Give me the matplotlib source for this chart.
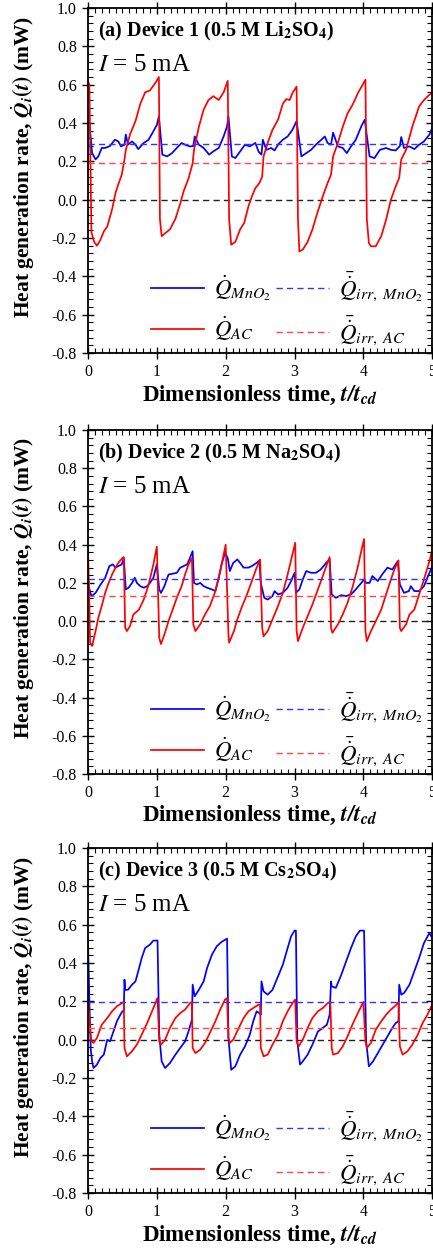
import numpy as np
import matplotlib
matplotlib.use('Agg')
import matplotlib.pyplot as plt
from matplotlib.ticker import MultipleLocator, FormatStrFormatter

plt.rcParams['font.family'] = 'Liberation Serif'
plt.rcParams['mathtext.fontset'] = 'stix'
plt.rcParams['axes.unicode_minus'] = False

# (t/t_cd, heat rate in mW)
ac_a = [(0.0, 0.62), (0.02, 0.60), (0.05, -0.17), (0.09, -0.22), (0.13, -0.24), (0.18, -0.21),
        (0.23, -0.165), (0.28, -0.14), (0.35, -0.05), (0.40, 0.035), (0.44, 0.08), (0.49, 0.13),
        (0.53, 0.21), (0.55, 0.26), (0.61, 0.34), (0.69, 0.41), (0.76, 0.50), (0.83, 0.56),
        (0.90, 0.57), (0.98, 0.61), (1.03, 0.64), (1.045, -0.10), (1.07, -0.19), (1.12, -0.175),
        (1.19, -0.155), (1.27, -0.10), (1.34, -0.02), (1.39, 0.045), (1.46, 0.11), (1.52, 0.19),
        (1.54, 0.26), (1.61, 0.38), (1.68, 0.47), (1.75, 0.52), (1.82, 0.54), (1.90, 0.52),
        (1.97, 0.56), (2.03, 0.62), (2.05, -0.10), (2.08, -0.235), (2.14, -0.22), (2.21, -0.155),
        (2.27, -0.12), (2.33, -0.035), (2.38, 0.017), (2.43, 0.06), (2.49, 0.087), (2.53, 0.12),
        (2.55, 0.226), (2.61, 0.296), (2.68, 0.365), (2.76, 0.417), (2.83, 0.50), (2.88, 0.525),
        (2.93, 0.52), (2.97, 0.557), (3.03, 0.59), (3.05, -0.10), (3.07, -0.27), (3.12, -0.26),
        (3.19, -0.22), (3.26, -0.155), (3.33, -0.07), (3.41, 0.017), (3.48, 0.087), (3.53, 0.13),
        (3.56, 0.226), (3.63, 0.296), (3.70, 0.38), (3.77, 0.45), (3.85, 0.50), (3.92, 0.556),
        (3.99, 0.60), (4.03, 0.626), (4.05, -0.10), (4.08, -0.226), (4.11, -0.243), (4.18, -0.243),
        (4.26, -0.19), (4.33, -0.104), (4.40, 0.0), (4.47, 0.07), (4.52, 0.113), (4.55, 0.21),
        (4.62, 0.26), (4.71, 0.38), (4.81, 0.487), (4.88, 0.52), (4.96, 0.548), (5.0, 0.556)]
mno2_a = [(0.0, 0.44), (0.02, 0.40), (0.06, 0.243), (0.11, 0.21), (0.15, 0.226), (0.20, 0.27),
          (0.25, 0.27), (0.32, 0.28), (0.39, 0.313), (0.44, 0.304), (0.48, 0.278), (0.53, 0.287),
          (0.55, 0.34), (0.58, 0.287), (0.64, 0.304), (0.69, 0.287), (0.73, 0.264), (0.81, 0.296),
          (0.88, 0.313), (0.95, 0.357), (1.00, 0.39), (1.03, 0.435), (1.08, 0.235), (1.15, 0.226),
          (1.22, 0.243), (1.29, 0.27), (1.36, 0.296), (1.41, 0.287), (1.48, 0.278), (1.53, 0.28),
          (1.55, 0.33), (1.61, 0.287), (1.68, 0.27), (1.76, 0.235), (1.82, 0.252), (1.90, 0.27),
          (1.97, 0.33), (2.02, 0.383), (2.04, 0.435), (2.09, 0.226), (2.14, 0.217), (2.21, 0.252),
          (2.28, 0.287), (2.35, 0.278), (2.43, 0.296), (2.48, 0.25), (2.52, 0.235), (2.54, 0.313),
          (2.59, 0.26), (2.66, 0.27), (2.71, 0.257), (2.76, 0.287), (2.83, 0.313), (2.90, 0.33),
          (2.97, 0.365), (3.03, 0.41), (3.10, 0.226), (3.17, 0.243), (3.24, 0.26), (3.31, 0.287),
          (3.39, 0.313), (3.44, 0.33), (3.48, 0.296), (3.53, 0.287), (3.56, 0.35), (3.63, 0.278),
          (3.70, 0.27), (3.76, 0.243), (3.82, 0.278), (3.89, 0.313), (3.97, 0.383), (4.02, 0.417),
          (4.09, 0.226), (4.16, 0.217), (4.24, 0.26), (4.33, 0.27), (4.40, 0.26), (4.47, 0.257),
          (4.53, 0.28), (4.55, 0.327), (4.59, 0.27), (4.67, 0.278), (4.74, 0.264), (4.81, 0.287),
          (4.88, 0.304), (4.96, 0.34), (5.0, 0.374)]

ac_b = [(0.0, 0.38), (0.02, 0.10), (0.03, -0.113), (0.06, -0.13), (0.11, -0.052), (0.15, 0.017),
        (0.20, 0.08), (0.25, 0.148), (0.30, 0.20), (0.35, 0.244), (0.40, 0.28), (0.44, 0.305),
        (0.50, 0.33), (0.52, 0.335), (0.54, -0.035), (0.565, -0.052), (0.61, -0.026), (0.66, 0.035),
        (0.74, 0.06), (0.81, 0.113), (0.88, 0.19), (0.95, 0.297), (1.00, 0.39), (1.035, -0.087),
        (1.06, -0.12), (1.11, -0.07), (1.17, 0.0), (1.23, 0.06), (1.29, 0.122), (1.36, 0.183),
        (1.41, 0.244), (1.46, 0.297), (1.51, 0.33), (1.53, -0.017), (1.56, -0.052), (1.63, -0.017),
        (1.70, 0.035), (1.77, 0.078), (1.85, 0.157), (1.92, 0.26), (2.00, 0.40), (2.04, -0.07),
        (2.05, -0.113), (2.12, -0.052), (2.16, 0.0), (2.23, 0.07), (2.31, 0.14), (2.38, 0.21),
        (2.45, 0.28), (2.50, 0.323), (2.53, -0.035), (2.55, -0.079), (2.61, -0.052), (2.68, 0.009),
        (2.76, 0.079), (2.83, 0.148), (2.90, 0.244), (2.97, 0.35), (3.01, 0.41), (3.03, -0.05),
        (3.05, -0.105), (3.12, -0.035), (3.19, 0.026), (3.26, 0.087), (3.34, 0.166), (3.41, 0.236),
        (3.47, 0.297), (3.51, 0.335), (3.53, -0.035), (3.55, -0.061), (3.63, -0.017), (3.70, 0.035),
        (3.77, 0.096), (3.84, 0.175), (3.91, 0.27), (3.98, 0.384), (4.01, 0.43), (4.03, -0.05),
        (4.05, -0.105), (4.11, -0.052), (4.18, 0.0), (4.26, 0.061), (4.33, 0.14), (4.40, 0.218),
        (4.45, 0.27), (4.51, 0.318), (4.53, -0.035), (4.55, -0.052), (4.62, -0.017), (4.67, 0.035),
        (4.74, 0.06), (4.81, 0.14), (4.88, 0.218), (4.96, 0.314), (5.0, 0.375)]
mno2_b = [(0.0, 0.22), (0.02, 0.17), (0.05, 0.13), (0.11, 0.148), (0.18, 0.19), (0.25, 0.227),
          (0.31, 0.288), (0.36, 0.297), (0.40, 0.28), (0.44, 0.288), (0.49, 0.297), (0.52, 0.33),
          (0.55, 0.166), (0.59, 0.175), (0.64, 0.20), (0.68, 0.227), (0.71, 0.20), (0.76, 0.183),
          (0.81, 0.175), (0.86, 0.183), (0.90, 0.20), (0.95, 0.227), (1.00, 0.297), (1.035, 0.166),
          (1.06, 0.148), (1.11, 0.183), (1.17, 0.244), (1.23, 0.248), (1.29, 0.253), (1.34, 0.28),
          (1.39, 0.288), (1.44, 0.297), (1.48, 0.33), (1.52, 0.366), (1.54, 0.20), (1.58, 0.192),
          (1.63, 0.20), (1.68, 0.183), (1.73, 0.175), (1.80, 0.166), (1.85, 0.157), (1.90, 0.227),
          (1.94, 0.297), (1.99, 0.358), (2.03, 0.33), (2.06, 0.262), (2.11, 0.305), (2.17, 0.323),
          (2.21, 0.305), (2.26, 0.28), (2.33, 0.28), (2.38, 0.288), (2.45, 0.305), (2.49, 0.318),
          (2.51, 0.20), (2.56, 0.122), (2.61, 0.113), (2.68, 0.131), (2.71, 0.157), (2.76, 0.14),
          (2.83, 0.148), (2.90, 0.175), (2.95, 0.21), (3.00, 0.253), (3.02, 0.148), (3.07, 0.166),
          (3.12, 0.218), (3.17, 0.262), (3.24, 0.253), (3.31, 0.253), (3.38, 0.27), (3.46, 0.305),
          (3.51, 0.323), (3.54, 0.14), (3.60, 0.122), (3.68, 0.136), (3.75, 0.131), (3.82, 0.14),
          (3.89, 0.166), (3.97, 0.20), (4.01, 0.218), (4.04, 0.20), (4.09, 0.20), (4.13, 0.236),
          (4.21, 0.21), (4.28, 0.248), (4.35, 0.28), (4.42, 0.27), (4.50, 0.314), (4.53, 0.192),
          (4.59, 0.148), (4.66, 0.157), (4.69, 0.183), (4.74, 0.157), (4.81, 0.157), (4.88, 0.183),
          (4.93, 0.227), (5.0, 0.288)]

ac_c = [(0.0, 0.22), (0.02, 0.10), (0.05, -0.009), (0.08, -0.017), (0.13, 0.009), (0.20, 0.078),
        (0.28, 0.113), (0.35, 0.148), (0.42, 0.174), (0.49, 0.19), (0.52, 0.197), (0.53, -0.043),
        (0.565, -0.087), (0.64, -0.06), (0.71, -0.026), (0.78, 0.026), (0.86, 0.087), (0.93, 0.148),
        (0.99, 0.20), (1.01, 0.217), (1.035, -0.009), (1.06, -0.026), (1.12, 0.0), (1.19, 0.061),
        (1.27, 0.113), (1.34, 0.139), (1.41, 0.157), (1.48, 0.19), (1.51, 0.197), (1.52, -0.043),
        (1.56, -0.07), (1.63, -0.052), (1.70, -0.017), (1.77, 0.035), (1.85, 0.096), (1.92, 0.157),
        (1.99, 0.209), (2.02, 0.217), (2.04, 0.009), (2.06, -0.017), (2.11, 0.0), (2.19, 0.061),
        (2.26, 0.113), (2.33, 0.148), (2.40, 0.165), (2.48, 0.183), (2.50, 0.183), (2.51, -0.043),
        (2.55, -0.087), (2.61, -0.078), (2.68, -0.026), (2.76, 0.026), (2.83, 0.096), (2.90, 0.148),
        (2.97, 0.191), (3.01, 0.209), (3.03, -0.009), (3.06, -0.035), (3.12, 0.0), (3.19, 0.061),
        (3.26, 0.113), (3.34, 0.148), (3.41, 0.165), (3.48, 0.19), (3.52, 0.197), (3.54, -0.043),
        (3.56, -0.078), (3.63, -0.07), (3.70, -0.035), (3.77, 0.017), (3.84, 0.078), (3.92, 0.139),
        (4.00, 0.197), (4.03, -0.009), (4.05, -0.043), (4.11, -0.017), (4.18, 0.052), (4.26, 0.096),
        (4.33, 0.13), (4.40, 0.157), (4.47, 0.179), (4.51, 0.197), (4.53, -0.035), (4.57, -0.078),
        (4.64, -0.061), (4.71, -0.026), (4.79, 0.026), (4.86, 0.087), (4.93, 0.13), (5.0, 0.183)]
mno2_c = [(0.0, 0.52), (0.02, 0.20), (0.04, -0.05), (0.06, -0.113), (0.08, -0.148), (0.13, -0.13),
          (0.18, -0.096), (0.23, -0.078), (0.28, 0.0), (0.32, -0.009), (0.37, 0.043), (0.42, 0.096),
          (0.47, 0.13), (0.50, 0.148), (0.52, 0.15), (0.53, 0.313), (0.54, 0.26), (0.58, 0.26),
          (0.64, 0.287), (0.69, 0.304), (0.73, 0.357), (0.78, 0.426), (0.83, 0.478), (0.90, 0.496),
          (0.95, 0.517), (1.01, 0.517), (1.035, 0.026), (1.07, -0.113), (1.12, -0.148), (1.19, -0.122),
          (1.27, -0.078), (1.34, -0.043), (1.41, -0.009), (1.46, 0.043), (1.51, 0.104), (1.52, 0.287),
          (1.55, 0.226), (1.61, 0.26), (1.68, 0.304), (1.73, 0.374), (1.80, 0.443), (1.87, 0.487),
          (1.94, 0.51), (2.02, 0.527), (2.04, 0.009), (2.08, -0.157), (2.14, -0.139), (2.21, -0.078),
          (2.28, -0.035), (2.35, 0.026), (2.40, 0.096), (2.45, 0.148), (2.50, 0.135), (2.51, 0.13),
          (2.52, 0.304), (2.55, 0.252), (2.61, 0.235), (2.68, 0.26), (2.76, 0.33), (2.83, 0.391),
          (2.90, 0.478), (2.95, 0.539), (3.00, 0.569), (3.02, 0.569), (3.04, -0.009), (3.08, -0.13),
          (3.12, -0.113), (3.19, -0.078), (3.26, -0.026), (3.34, 0.043), (3.41, 0.061), (3.47, 0.078),
          (3.51, 0.13), (3.53, 0.304), (3.54, 0.278), (3.60, 0.27), (3.68, 0.339), (3.75, 0.409),
          (3.82, 0.478), (3.89, 0.539), (3.95, 0.569), (4.01, 0.569), (4.04, -0.009), (4.08, -0.139),
          (4.14, -0.113), (4.21, -0.07), (4.28, -0.026), (4.35, 0.017), (4.42, 0.061), (4.47, 0.087),
          (4.51, 0.096), (4.52, 0.287), (4.55, 0.235), (4.59, 0.243), (4.67, 0.287), (4.74, 0.357),
          (4.81, 0.426), (4.88, 0.504), (4.96, 0.557), (5.0, 0.53)]

# time-averaged irreversible heat rates (mW)
qirr_mno2 = [0.29, 0.223, 0.197]
qirr_ac = [0.19, 0.134, 0.061]

titles = [r'(a) Device 1 (0.5 M Li$_\mathbf{2}$SO$_\mathbf{4}$)',
          r'(b) Device 2 (0.5 M Na$_\mathbf{2}$SO$_\mathbf{4}$)',
          r'(c) Device 3 (0.5 M Cs$_\mathbf{2}$SO$_\mathbf{4}$)']
ac_all = [ac_a, ac_b, ac_c]
mno2_all = [mno2_a, mno2_b, mno2_c]

# axes boxes in figure fraction [left, bottom, width, height]
boxes = [[0.2032, 0.7180, 0.7950, 0.2756],
         [0.2032, 0.3818, 0.7950, 0.2747],
         [0.2032, 0.0471, 0.7950, 0.2756]]

fig = plt.figure(figsize=(4.33, 12.52), dpi=100)

for k in range(3):
    ax = fig.add_axes(boxes[k])
    t1, q1 = zip(*mno2_all[k])
    t2, q2 = zip(*ac_all[k])
    ax.axhline(0, color='#222222', lw=1.0, dashes=(4.5, 3))
    l_mno2, = ax.plot(t1, q1, color='#0000ff', lw=1.25)
    l_ac, = ax.plot(t2, q2, color='#ff0000', lw=1.25)
    l_irr_mno2 = ax.axhline(qirr_mno2[k], color='#3333ff', lw=1.0, dashes=(4.5, 3))
    l_irr_ac = ax.axhline(qirr_ac[k], color='#ff4444', lw=1.0, dashes=(4.5, 3))

    ax.set_xlim(0, 5)
    ax.set_ylim(-0.8, 1.0)
    ax.xaxis.set_major_locator(MultipleLocator(1))
    ax.xaxis.set_minor_locator(MultipleLocator(0.1))
    ax.yaxis.set_major_locator(MultipleLocator(0.2))
    ax.yaxis.set_minor_locator(MultipleLocator(0.04))
    ax.yaxis.set_major_formatter(FormatStrFormatter('%.1f'))
    ax.tick_params(which='major', direction='inout', length=8, width=1.0,
                   top=True, right=True, labelsize=11.5, pad=4)
    ax.tick_params(which='minor', direction='in', length=3.5, width=0.8,
                   top=True, right=True)
    for sp in ax.spines.values():
        sp.set_linewidth(1.3)

    ax.set_ylabel(r'Heat generation rate, $\dot{\mathbfit{Q}}_{\mathbfit{i}}\mathbf{(}\mathbfit{t}\mathbf{)}$ (mW)',
                  fontsize=15.5, fontweight='bold', va='center')
    ax.yaxis.set_label_coords(-0.189, 0.54)
    ax.set_xlabel(r'Dimensionless time, $\mathbfit{t/t}_{\mathbfit{cd}}$',
                  fontsize=16.5, fontweight='bold', va='center')
    ax.xaxis.set_label_coords(0.5, -0.122)

    ax.text(0.029, 0.933, titles[k], transform=ax.transAxes, fontsize=14.5,
            fontweight='bold', va='center', ha='left')
    ax.text(0.029, 0.835, r'$I$ = 5 mA', transform=ax.transAxes, fontsize=18,
            va='center', ha='left')

    ax.legend([l_mno2, l_ac, l_irr_mno2, l_irr_ac],
              [r'$\dot{Q}_{MnO_2}$', r'$\dot{Q}_{AC}$',
               r'$\bar{\dot{Q}}_{irr,\ MnO_2}$', r'$\bar{\dot{Q}}_{irr,\ AC}$'],
              ncol=2, loc='lower right', bbox_to_anchor=(1.02, -0.03), frameon=False,
              fontsize=16.5, handlelength=2.3, handletextpad=0.45, columnspacing=0.2,
              labelspacing=0.5, borderpad=0.2)

fig.savefig('out.png', dpi=100)
